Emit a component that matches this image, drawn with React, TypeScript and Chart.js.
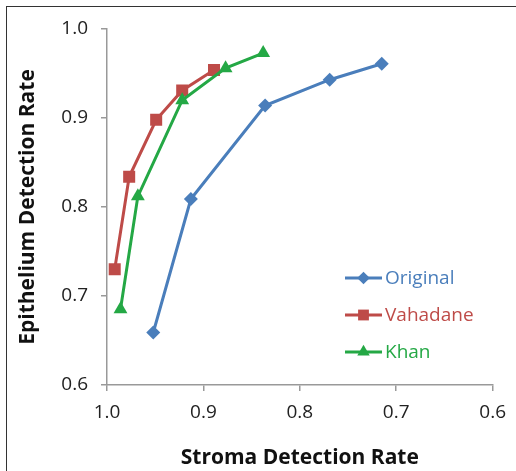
import React, { useEffect, useRef } from "react";
import { Chart, registerables } from "chart.js";

Chart.register(...registerables);

const seriesNames = ["Original", "Vahadane", "Khan"];
const seriesColors = ["#4A7EBB", "#BE4B48", "#24A845"];
const seriesMarkers = ["rectRot", "rect", "triangle"];
const seriesRadius = [7, 8.5, 8];

const originalX = [0.952, 0.913, 0.836, 0.769, 0.715];
const originalY = [0.659, 0.809, 0.914, 0.943, 0.961];
const vahadaneX = [0.992, 0.977, 0.949, 0.922, 0.889];
const vahadaneY = [0.73, 0.834, 0.898, 0.931, 0.954];
const khanX = [0.986, 0.968, 0.922, 0.877, 0.838];
const khanY = [0.685, 0.812, 0.92, 0.956, 0.973];

const xTicks = [1.0, 0.9, 0.8, 0.7, 0.6];
const yTicks = [0.6, 0.7, 0.8, 0.9, 1.0];

const xTitle = "Stroma Detection Rate";
const yTitle = "Epithelium Detection Rate";

const FONT = "'Open Sans', 'Noto Sans', sans-serif";

export default function App() {
  const canvasRef = useRef<HTMLCanvasElement>(null);

  useEffect(() => {
    document.body.style.margin = "0";
    const xs = [originalX, vahadaneX, khanX];
    const ys = [originalY, vahadaneY, khanY];
    const datasets = seriesNames.map((name, i) => ({
      label: name,
      data: xs[i].map((x, j) => ({ x, y: ys[i][j] })),
      showLine: true,
      borderColor: seriesColors[i],
      backgroundColor: seriesColors[i],
      borderWidth: 3,
      pointStyle: seriesMarkers[i],
      pointRadius: seriesRadius[i],
      pointBorderWidth: 0,
      order: 2 - i,
    }));

    const chart = new Chart(canvasRef.current!, {
      type: "scatter",
      data: { datasets },
      plugins: [
        {
          id: "markerLegend",
          afterDatasetsDraw(c: any) {
            const { ctx, chartArea } = c;
            const x0 = chartArea.left + 238;
            const y0 = chartArea.top + 249;
            const gap = 37;
            seriesNames.forEach((name, i) => {
              const y = y0 + i * gap;
              ctx.save();
              ctx.strokeStyle = seriesColors[i];
              ctx.lineWidth = 3;
              ctx.beginPath();
              ctx.moveTo(x0, y);
              ctx.lineTo(x0 + 37, y);
              ctx.stroke();
              ctx.fillStyle = seriesColors[i];
              ctx.beginPath();
              const cx = x0 + 18.5;
              const r = seriesRadius[i] * 0.9;
              if (seriesMarkers[i] === "rectRot") {
                ctx.moveTo(cx, y - r);
                ctx.lineTo(cx + r, y);
                ctx.lineTo(cx, y + r);
                ctx.lineTo(cx - r, y);
              } else if (seriesMarkers[i] === "rect") {
                const s = r * Math.SQRT1_2;
                ctx.rect(cx - s, y - s, 2 * s, 2 * s);
              } else {
                ctx.moveTo(cx, y - r);
                ctx.lineTo(cx + r * 0.866, y + r * 0.5);
                ctx.lineTo(cx - r * 0.866, y + r * 0.5);
              }
              ctx.closePath();
              ctx.fill();
              ctx.font = `19px ${FONT}`;
              ctx.textBaseline = "middle";
              ctx.textAlign = "left";
              ctx.fillText(name, x0 + 40, y + 1);
              ctx.restore();
            });
          },
        },
      ],
      options: {
        animation: false,
        responsive: false,
        maintainAspectRatio: false,
        layout: { padding: { top: 29, right: 22, left: 0, bottom: 0 } },
        plugins: {
          legend: { display: false },
          tooltip: { enabled: false },
        },
        scales: {
          x: {
            type: "linear",
            min: 0.6,
            max: 1.0,
            reverse: true,
            afterBuildTicks: (s: any) => {
              s.ticks = xTicks.map((v) => ({ value: v }));
            },
            afterFit: (s: any) => {
              s.height = 86;
            },
            ticks: {
              callback: (v: any) => Number(v).toFixed(1),
              font: { family: FONT, size: 19 },
              color: "#222",
              padding: 10,
              maxRotation: 0,
            },
            grid: {
              drawOnChartArea: false,
              drawTicks: true,
              tickLength: 6,
              color: "#999",
              lineWidth: 1.5,
            },
            border: { color: "#999", width: 1.5 },
            title: {
              display: true,
              text: xTitle,
              font: { family: FONT, size: 21, weight: "bold" },
              color: "#111",
              padding: { top: 2, bottom: 0 },
            },
          },
          y: {
            type: "linear",
            min: 0.6,
            max: 1.0,
            afterBuildTicks: (s: any) => {
              s.ticks = yTicks.map((v) => ({ value: v }));
            },
            afterFit: (s: any) => {
              s.width = 107;
            },
            ticks: {
              callback: (v: any) => Number(v).toFixed(1),
              font: { family: FONT, size: 19 },
              color: "#222",
              padding: 13,
            },
            grid: {
              drawOnChartArea: false,
              drawTicks: true,
              tickLength: 6,
              color: "#999",
              lineWidth: 1.5,
            },
            border: { color: "#999", width: 1.5 },
            title: {
              display: true,
              text: yTitle,
              font: { family: FONT, size: 21, weight: "bold" },
              color: "#111",
              padding: { top: 15, bottom: 0 },
            },
          },
        },
      } as any,
    });
    return () => chart.destroy();
  }, []);

  return (
    <div style={{ position: "relative", width: 516, height: 471, overflow: "hidden", background: "#fff" }}>
      <div
        style={{
          position: "absolute",
          left: 6,
          top: 6,
          width: 520,
          height: 500,
          border: "1.5px solid #333",
          boxSizing: "border-box",
        }}
      />
      <canvas ref={canvasRef} width={516} height={471} style={{ position: "absolute", left: 0, top: 0 }} />
    </div>
  );
}
